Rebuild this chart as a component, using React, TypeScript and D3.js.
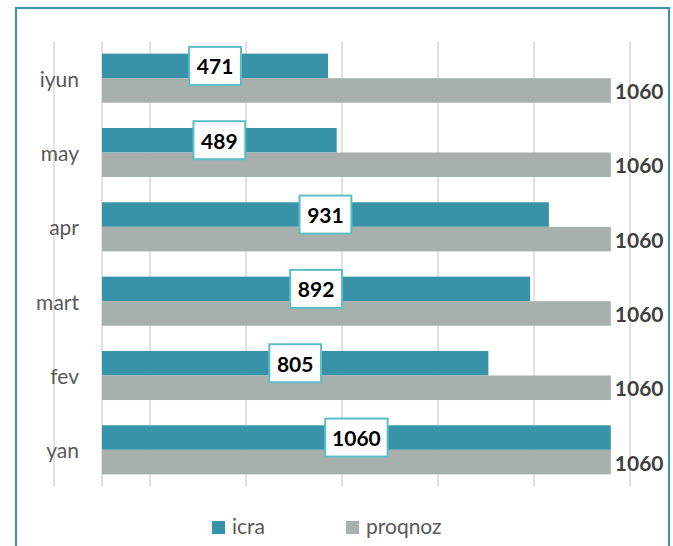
import React from "react";
import * as d3 from "d3";

const categories = ["iyun", "may", "apr", "mart", "fev", "yan"];
const icra = [471, 489, 931, 892, 805, 1060];
const proqnoz = [1060, 1060, 1060, 1060, 1060, 1060];
const gridTicks = [-100, 100, 300, 500, 700, 900, 1100];
const seriesNames = ["icra", "proqnoz"];

const W = 673;
const H = 546;
const C_ICRA = "#3993a8";
const C_PROQ = "#a8b0ad";
const FONT = "Lato, 'Open Sans', sans-serif";

export default function App() {
  const x = d3.scaleLinear().domain([-100, 1100]).range([54, 630]);
  const y = d3
    .scaleBand<string>()
    .domain(categories)
    .range([41, 487])
    .paddingInner(0.34)
    .paddingOuter(0.17);
  const sub = d3.scaleBand<string>().domain(seriesNames).range([0, y.bandwidth()]);
  const charW = 10.6;

  return (
    <svg
      width={W}
      height={H}
      style={{ position: "absolute", left: 0, top: 0, background: "#fff" }}
      fontFamily={FONT}
    >
      <rect x={0} y={0} width={W} height={H} fill="#fff" />
      <rect x={16} y={8} width={653} height={600} fill="none" stroke="#3a95aa" strokeWidth={2} />
      {gridTicks.map((t) => (
        <line key={t} x1={x(t)} x2={x(t)} y1={41} y2={487} stroke="#d9d9d9" strokeWidth={1.5} />
      ))}
      <line x1={x(0)} x2={x(0)} y1={41} y2={487} stroke="#d9d9d9" strokeWidth={1.5} />
      {categories.map((c, i) => {
        const y0 = y(c)!;
        const yi = y0 + sub("icra")!;
        const yp = y0 + sub("proqnoz")!;
        const bh = sub.bandwidth();
        const v = icra[i];
        const p = proqnoz[i];
        const label = String(v);
        const bw = label.length * charW + 20;
        const cx = (x(0) + x(v)) / 2;
        const cy = yi + bh / 2;
        return (
          <g key={c}>
            <rect x={x(0)} y={yi} width={x(v) - x(0)} height={bh} fill={C_ICRA} />
            <rect x={x(0)} y={yp} width={x(p) - x(0)} height={bh} fill={C_PROQ} />
            <rect
              x={cx - bw / 2}
              y={cy - 19}
              width={bw}
              height={38}
              fill="#fff"
              stroke="#5dbec6"
              strokeWidth={2}
            />
            <text
              x={cx}
              y={cy}
              textAnchor="middle"
              dominantBaseline="central"
              fontWeight="bold"
              fontSize={21}
              fill="#000"
            >
              {label}
            </text>
            <text
              x={x(p) + 4}
              y={yp + bh / 2}
              dominantBaseline="central"
              fontWeight="bold"
              fontSize={21}
              fill="#404040"
            >
              {p}
            </text>
            <text
              x={79}
              y={y0 + y.bandwidth() / 2}
              textAnchor="end"
              dominantBaseline="central"
              fontSize={21}
              fill="#595959"
            >
              {c}
            </text>
          </g>
        );
      })}
      <rect x={212} y={521} width={13} height={13} fill={C_ICRA} />
      <text x={232} y={534} fontSize={21} fill="#595959">
        {seriesNames[0]}
      </text>
      <rect x={346} y={521} width={13} height={13} fill={C_PROQ} />
      <text x={366} y={534} fontSize={21} fill="#595959">
        {seriesNames[1]}
      </text>
    </svg>
  );
}
